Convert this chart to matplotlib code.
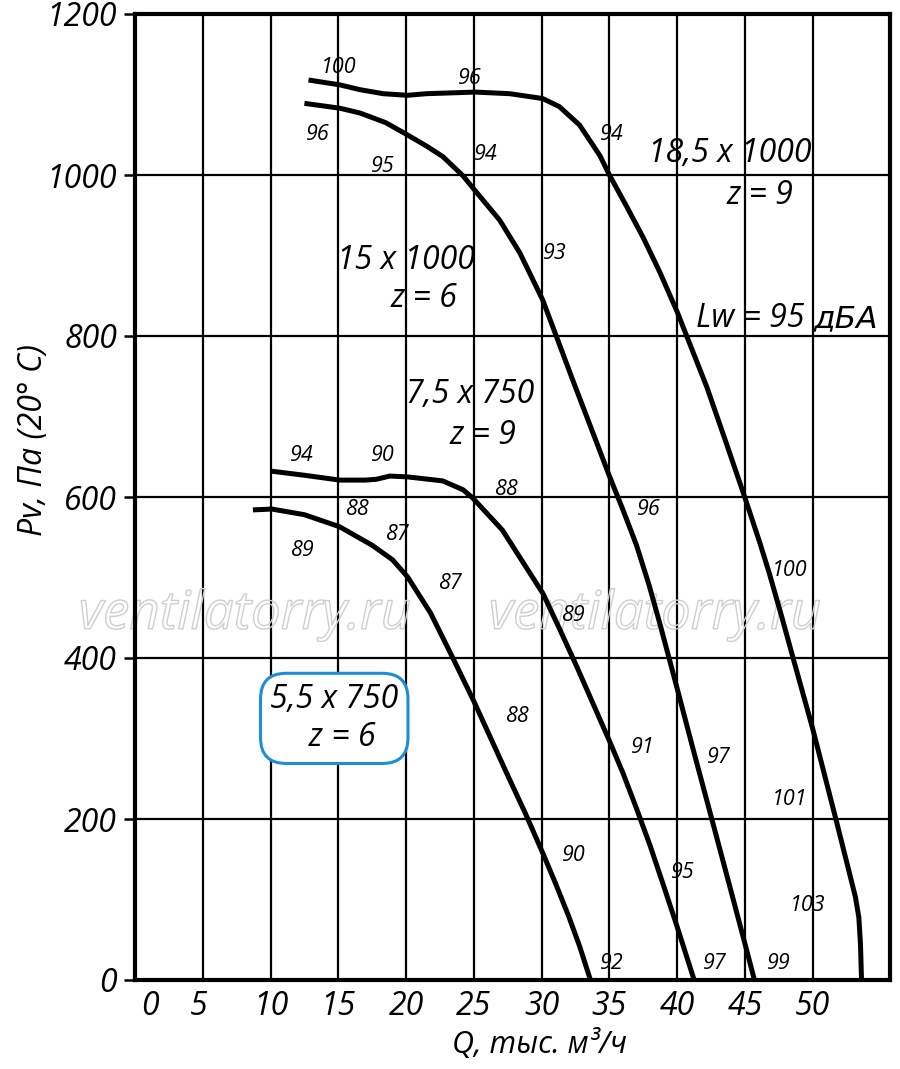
import matplotlib
matplotlib.use("Agg")
import matplotlib.pyplot as plt
import matplotlib.patheffects as pe
from matplotlib.transforms import ScaledTranslation

# ---------------- data ----------------
q_55 = [8.7, 10.1, 12.5, 15.1, 17.5, 19.0, 20.1, 21.8, 23.45, 24.95, 26.2, 27.5, 28.8,
        30.1, 31.0, 32.0, 32.8, 33.6]
p_55 = [584, 585, 578, 563, 540, 522, 501, 456, 400, 348, 302, 254, 207,
        157, 121, 79, 42, 0]

q_75 = [10.1, 12.5, 15.1, 17.0, 17.8, 18.8, 20.1, 22.7, 24.2, 24.9, 27.1, 30.1, 31.3,
        32.6, 33.8, 35.0, 36.0, 37.0, 38.0, 39.0, 40.0, 41.25]
p_75 = [632, 627, 621, 621, 622, 626, 625, 620, 609, 599, 559, 480, 437,
        389, 343, 297, 257, 213, 167, 117, 66, 0]

q_15 = [12.5, 15.1, 16.6, 18.5, 20.08, 21.5, 22.7, 24.2, 25.07, 26.9, 28.4, 30.07, 31.1,
        32.3, 33.55, 35.0, 36.0, 37.0, 37.9, 38.7, 40.0, 41.2, 42.6, 43.9, 45.0, 45.7]
p_15 = [1089, 1083, 1077, 1065, 1050, 1036, 1023, 999, 981, 944, 903, 845, 799,
        745, 690, 626, 584, 540, 492, 444, 362, 285, 197, 115, 45, 0]

q_185 = [12.8, 15.1, 16.6, 18.3, 20.1, 21.5, 25.1, 27.65, 30.07, 31.3, 32.8, 34.3, 35.0,
         36.3, 37.5, 38.7, 40.0, 40.7, 42.2, 43.6, 45.0, 46.1, 46.8, 47.7, 48.55, 50.0,
         51.75, 52.6, 53.15, 53.4, 53.52, 53.6]
p_185 = [1118, 1112, 1106, 1101, 1099, 1101, 1103, 1101, 1095, 1085, 1062, 1024, 1000,
         960, 922, 880, 830, 800, 736, 668, 599, 543, 505, 452, 400, 312,
         197, 140, 103, 78, 45, 0]

x_ticks = [0, 5, 10, 15, 20, 25, 30, 35, 40, 45, 50]
x_tick_labels = ["0", "5", "10", "15", "20", "25", "30", "35", "40", "45", "50"]
y_ticks = [0, 200, 400, 600, 800, 1000, 1200]
y_tick_labels = ["0", "200", "400", "600", "800", "1000", "1200"]

# noise level labels (text, Q, P)
noise_labels = [
    ("100", 15.0, 1133), ("96", 24.7, 1120), ("96", 13.5, 1050), ("95", 18.3, 1010),
    ("94", 25.9, 1025), ("94", 35.2, 1050), ("93", 31.0, 903),
    ("94", 12.3, 652), ("90", 18.3, 652), ("88", 16.4, 584), ("87", 19.3, 553),
    ("88", 27.4, 609), ("89", 12.3, 533), ("87", 23.2, 492), ("96", 37.9, 584),
    ("89", 32.3, 453), ("100", 48.3, 509), ("88", 28.2, 327), ("91", 37.5, 289),
    ("97", 43.1, 277), ("101", 48.3, 224), ("90", 32.4, 155), ("95", 40.4, 134),
    ("103", 49.6, 93), ("92", 35.2, 21), ("97", 42.8, 21), ("99", 47.5, 21),
]

# ---------------- figure ----------------
FONT = "Open Sans"
plt.rcParams["font.family"] = [FONT, "DejaVu Sans"]
plt.rcParams["font.style"] = "italic"

fig = plt.figure(figsize=(9.0, 10.69), dpi=100)
ax = fig.add_axes([135 / 900, 89 / 1069, 755 / 900, 966 / 1069])
ax.set_xlim(0, 55.7)
ax.set_ylim(0, 1200)

for s in ax.spines.values():
    s.set_linewidth(3.0)
    s.set_color("black")

ax.set_xticks(x_ticks)
ax.set_xticklabels(x_tick_labels, fontsize=23, style="italic")
ax.set_yticks(y_ticks)
ax.set_yticklabels(y_tick_labels, fontsize=23, style="italic")
ax.tick_params(axis="x", length=0, pad=7)
ax.tick_params(axis="y", length=8, width=1.8, pad=5, direction="out")
ax.set_xticks([35, 40, 45, 50], minor=True)
ax.tick_params(axis="x", which="minor", length=6, width=1.5, direction="out")

# shift "0" and "5" labels as in the reference
lbls = ax.get_xticklabels()
lbls[0].set_transform(lbls[0].get_transform() + ScaledTranslation(15 / 100, 0, fig.dpi_scale_trans))
lbls[1].set_transform(lbls[1].get_transform() + ScaledTranslation(-4 / 100, 0, fig.dpi_scale_trans))

ax.grid(True, which="major", color="black", linewidth=1.6)
ax.set_axisbelow(True)

ax.set_xlabel("Q, тыс. м³/ч", fontsize=22, style="italic")
ax.xaxis.set_label_coords((540 - 135) / 755, -(1029 - 980) / 966)
ax.set_ylabel("Pv, Па (20° С)", fontsize=23, style="italic")
ax.yaxis.set_label_coords((50 - 135) / 755, (980 - 440) / 966)

# watermark
for xw in [(245 - 135) / 755, (655 - 135) / 755]:
    ax.text(xw, (980 - 615) / 966, "ventilatorry.ru", transform=ax.transAxes,
            fontsize=38, style="italic", ha="center", va="center",
            color=(1, 1, 1, 0), zorder=1.5,
            path_effects=[pe.withStroke(linewidth=1.0, foreground="#cfcfcf")])

# curves
for q, p in [(q_55, p_55), (q_75, p_75), (q_15, p_15), (q_185, p_185)]:
    ax.plot(q, p, color="black", linewidth=3.6, solid_joinstyle="round",
            solid_capstyle="butt", zorder=3)

# noise labels
for t, q, p in noise_labels:
    ax.text(q, p, t, fontsize=15.5, style="italic", ha="center", va="center", zorder=4)

# fan labels
big = dict(fontsize=23, style="italic", ha="center", va="center", zorder=4)
ax.text(43.9, 1027, "18,5 x 1000", **big)
ax.text(46.1, 975, "z = 9", **big)
ax.text(20.0, 894, "15 x 1000", **big)
ax.text(21.3, 847, "z = 6", **big)
ax.text(24.7, 727, "7,5 x 750", **big)
ax.text(25.7, 677, "z = 9", **big)

lw_y = 811
t_lw = ax.text(41.4, lw_y, "Lw = 95 ", fontsize=23, style="italic", ha="left",
               va="baseline", zorder=4)
fig.canvas.draw()
bb = t_lw.get_window_extent(fig.canvas.get_renderer())
x_next = ax.transData.inverted().transform((bb.x1, 0))[0]
ax.text(x_next, lw_y, "дБА", fontsize=22.5, family="DejaVu Sans", style="oblique",
        ha="left", va="baseline", zorder=4)

ax.text(14.7, 325, "5,5 x 750\n  z = 6", fontsize=23, style="italic", ha="center",
        va="center", multialignment="center", linespacing=1.2, zorder=4,
        bbox=dict(boxstyle="round,pad=0.3,rounding_size=0.8", facecolor="white",
                  edgecolor="#1a8fd8", linewidth=2.2))

fig.savefig("out.png", dpi=100)
